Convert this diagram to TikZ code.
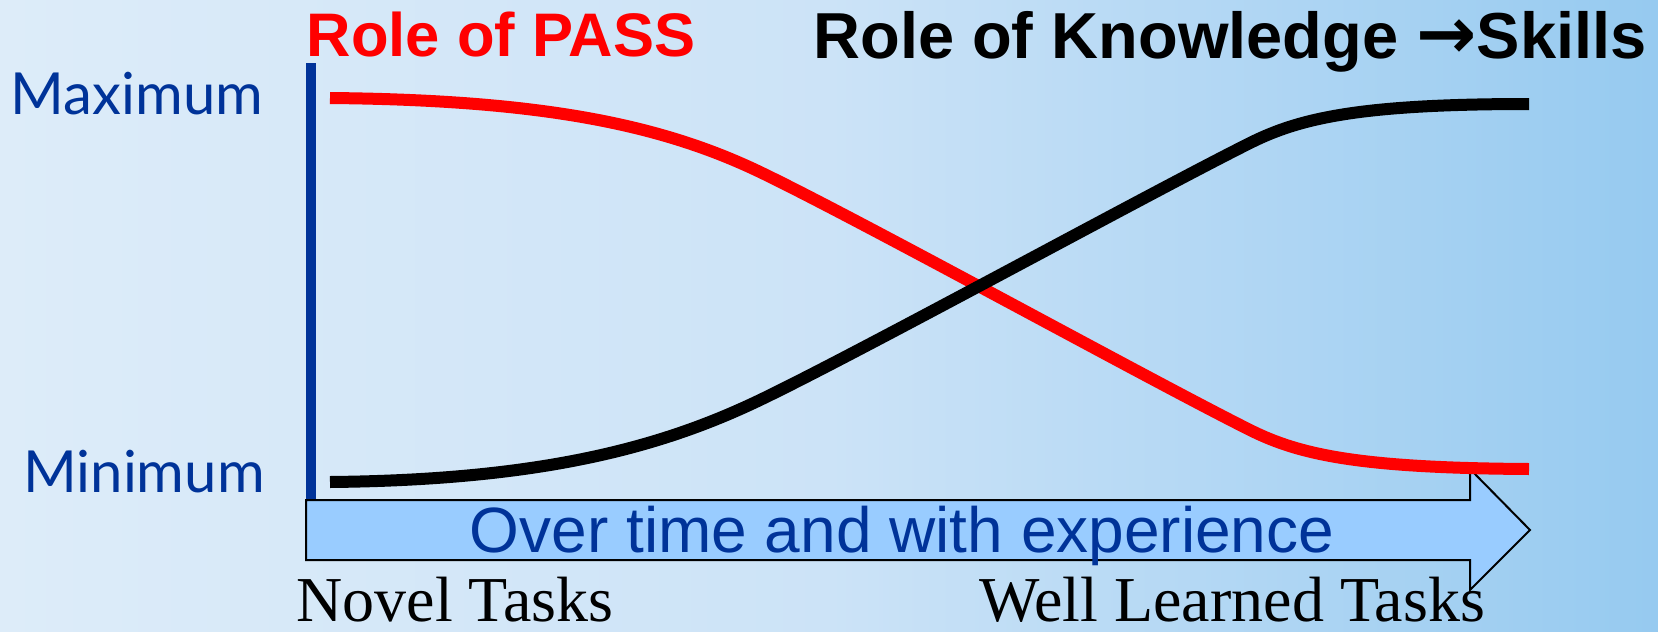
\documentclass[tikz,border=0pt]{standalone}
\usepackage{fontspec}
\setmainfont{Liberation Serif}
\newfontfamily\arialfont{Liberation Sans}
\newfontfamily\gillfont{Lato}
\newfontfamily\symfont{DejaVu Sans}
\usepackage{xcolor}
\usetikzlibrary{positioning,calc}

\definecolor{bgleft}{RGB}{221,236,249}
\definecolor{bgmid}{RGB}{204,227,247}
\definecolor{bgright}{RGB}{150,202,240}
\definecolor{axisblue}{RGB}{0,51,153}
\definecolor{arrowfill}{RGB}{153,204,255}

\begin{document}
\begin{tikzpicture}[
    x=1pt, y=-1pt,
    curve/.style={line width=12pt},
    level/.style={font=\gillfont\fontsize{58}{64}\selectfont, text=axisblue, inner sep=0pt},
    title/.style={font=\arialfont\bfseries\fontsize{61.5}{68}\selectfont, inner sep=0pt},
    task/.style={font=\fontsize{64}{70}\selectfont, inner sep=0pt}
]

% background
\useasboundingbox (0,0) rectangle (1658,632);
\shade[left color=bgleft, right color=bgright, middle color=bgmid] (0,0) rectangle (1658,632);

% titles
\node[title, text=red, anchor=base] (passtitle) at (501,56) {Role of PASS};
\node[title, font=\arialfont\bfseries\fontsize{65}{72}\selectfont, anchor=base] (knowtitle) at (1230,58)
    {Role of Knowledge {\symfont\bfseries\fontsize{72}{72}\selectfont →}Skills};

% axis labels
\node[level, anchor=base] (maxlabel) at (137,114) {Maximum};
\node[level, anchor=base] (minlabel) at (144,492) {Minimum};

% vertical axis
\coordinate (axistop) at (311,63);
\coordinate (axisbot) at (311,500);
\draw[axisblue, line width=10pt] (axistop) -- (axisbot);

% time arrow
\draw[fill=arrowfill, line width=2pt, line join=miter]
    (306,500) -- (1470,500) -- (1470,469) -- (1530,530)
    -- (1470,590) -- (1470,560) -- (306,560) -- cycle;
\node[font=\arialfont\fontsize{64}{70}\selectfont, text=axisblue, anchor=base, inner sep=0pt]
    (timetext) at (902,552) {Over time and with experience};

% curves
\draw[curve, red] (330,98) .. controls (540,100) and (660,124) .. (760,172)
    .. controls (860,220) and (1150,380) .. (1250,430)
    .. controls (1300,455) and (1360,468) .. (1529,469);
\draw[curve, black] (330,482) .. controls (540,480) and (660,448) .. (760,400)
    .. controls (860,352) and (1150,193) .. (1250,143)
    .. controls (1300,118) and (1360,104) .. (1529,104);

% task labels
\node[task, anchor=base] (novel) at (455,621) {Novel Tasks};
\node[task, anchor=base] (learned) at (1232,621) {Well Learned Tasks};

\end{tikzpicture}
\end{document}
